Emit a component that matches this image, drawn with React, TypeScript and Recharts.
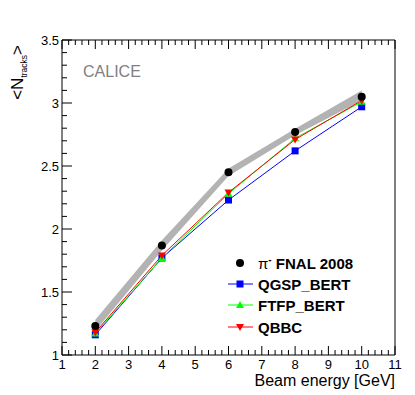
import React from "react";
import { ComposedChart, Line, Area, XAxis, YAxis, Legend } from "recharts";

const energies = [2, 4, 6, 8, 10];
const fnalData = [1.23, 1.87, 2.45, 2.77, 3.05];
const qgspBert = [1.16, 1.77, 2.23, 2.62, 2.97];
const ftfpBert = [1.17, 1.77, 2.28, 2.72, 3.01];
const qbbc = [1.18, 1.79, 2.29, 2.71, 3.02];
const bandLow = [1.19, 1.83, 2.42, 2.745, 3.02];
const bandHigh = [1.28, 1.91, 2.48, 2.795, 3.1];

const xMajor = [1, 2, 3, 4, 5, 6, 7, 8, 9, 10, 11];
const yMajor = [1, 1.5, 2, 2.5, 3, 3.5];
const xTicks = Array.from({ length: 51 }, (_, i) => +(1 + i * 0.2).toFixed(1));
const yTicks = Array.from({ length: 26 }, (_, i) => +(1 + i * 0.1).toFixed(1));

const rows = energies.map((e, i) => ({
  energy: e,
  data: fnalData[i],
  qgsp: qgspBert[i],
  ftfp: ftfpBert[i],
  qbbc: qbbc[i],
  band: [bandLow[i], bandHigh[i]],
}));

const FONT = "'Liberation Sans', Arial, Helvetica, sans-serif";
const BLUE = "#0000ff";
const GREEN = "#00ff00";
const RED = "#ff0000";

const isXMajor = (v: number) => xMajor.some((m) => Math.abs(m - v) < 1e-6);
const isYMajor = (v: number) => yMajor.some((m) => Math.abs(m - v) < 1e-6);

const BottomTick = (p: any) => {
  const v = p.payload.value;
  const major = isXMajor(v);
  return (
    <g>
      <line x1={p.x} x2={p.x} y1={p.y} y2={p.y - (major ? 9 : 5)} stroke="#000" />
      {major && (
        <text x={p.x} y={p.y + 14} textAnchor="middle" fontSize={13} fontFamily={FONT} fill="#000">
          {v}
        </text>
      )}
    </g>
  );
};

const TopTick = (p: any) => {
  const major = isXMajor(p.payload.value);
  return <line x1={p.x} x2={p.x} y1={p.y} y2={p.y + (major ? 9 : 5)} stroke="#000" />;
};

const LeftTick = (p: any) => {
  const v = p.payload.value;
  const major = isYMajor(v);
  return (
    <g>
      <line x1={p.x} x2={p.x + (major ? 10 : 5)} y1={p.y} y2={p.y} stroke="#000" />
      {major && (
        <text x={p.x - 3} y={p.y + 4.5} textAnchor="end" fontSize={13} fontFamily={FONT} fill="#000">
          {v}
        </text>
      )}
    </g>
  );
};

const RightTick = (p: any) => {
  const major = isYMajor(p.payload.value);
  return <line x1={p.x} x2={p.x - (major ? 10 : 5)} y1={p.y} y2={p.y} stroke="#000" />;
};

const Circle = (p: any) => <circle key={p.index} cx={p.cx} cy={p.cy} r={4} fill="#000" />;
const Square = (p: any) => (
  <rect key={p.index} x={p.cx - 3.5} y={p.cy - 3.5} width={7} height={7} fill={BLUE} />
);
const TriUp = (p: any) => (
  <path key={p.index} d={`M${p.cx},${p.cy - 4}L${p.cx + 4},${p.cy + 3}L${p.cx - 4},${p.cy + 3}Z`} fill={GREEN} />
);
const TriDown = (p: any) => (
  <path key={p.index} d={`M${p.cx},${p.cy + 4}L${p.cx + 4},${p.cy - 3}L${p.cx - 4},${p.cy - 3}Z`} fill={RED} />
);

const legendItems = [
  { name: "FNAL 2008", pi: true, color: "#000", marker: "circle", line: false },
  { name: "QGSP_BERT", pi: false, color: BLUE, marker: "square", line: true },
  { name: "FTFP_BERT", pi: false, color: GREEN, marker: "up", line: true },
  { name: "QBBC", pi: false, color: RED, marker: "down", line: true },
];
const legendRowY = [11, 32, 53, 75];

const renderLegend = () => (
  <svg width={180} height={95}>
    {legendItems.map((it, i) => {
      const cy = legendRowY[i];
      const cx = 17;
      let m: React.ReactNode = null;
      if (it.marker === "circle") m = <circle cx={cx} cy={cy} r={4} fill="#000" />;
      if (it.marker === "square") m = <rect x={cx - 3.5} y={cy - 3.5} width={7} height={7} fill={BLUE} />;
      if (it.marker === "up")
        m = <path d={`M${cx},${cy - 4}L${cx + 4},${cy + 3}L${cx - 4},${cy + 3}Z`} fill={GREEN} />;
      if (it.marker === "down")
        m = <path d={`M${cx},${cy + 4}L${cx + 4},${cy - 3}L${cx - 4},${cy - 3}Z`} fill={RED} />;
      return (
        <g key={it.name}>
          {it.line && <line x1={5} x2={30} y1={cy} y2={cy} stroke={it.color} strokeWidth={1} />}
          {m}
          <text x={35} y={cy + 5.5} fontSize={15} fontWeight="bold" fontFamily={FONT} fill="#000">
            {it.pi ? (
              <>
                <tspan fontWeight="normal">π</tspan>
                <tspan dy={-6} fontSize={10}>-</tspan>
                <tspan dy={6}>{" " + it.name}</tspan>
              </>
            ) : (
              it.name
            )}
          </text>
        </g>
      );
    })}
  </svg>
);

export default function App() {
  return (
    <ComposedChart
      width={407}
      height={387}
      data={rows}
      margin={{ top: 0, right: 0, bottom: 0, left: 0 }}
    >
      <XAxis
        dataKey="energy"
        type="number"
        domain={[1, 11]}
        ticks={xTicks}
        interval={0}
        height={40}
        tickSize={0}
        tickMargin={0}
        tickLine={false}
        axisLine={{ stroke: "#000" }}
        tick={BottomTick}
        label={{
          content: () => (
            <text x={387} y={378} textAnchor="end" fontSize={16} fontFamily={FONT} fill="#000">
              Beam energy [GeV]
            </text>
          ),
        }}
      />
      <XAxis
        xAxisId="top"
        orientation="top"
        dataKey="energy"
        type="number"
        domain={[1, 11]}
        ticks={xTicks}
        interval={0}
        height={32}
        tickSize={0}
        tickMargin={0}
        tickLine={false}
        axisLine={{ stroke: "#000" }}
        tick={TopTick}
        label={{
          content: () => (
            <text x={75} y={69} fontSize={16} fontFamily={FONT} fill="#7f7f7f">
              CALICE
            </text>
          ),
        }}
      />
      <YAxis
        type="number"
        domain={[1, 3.5]}
        ticks={yTicks}
        interval={0}
        width={54}
        tickSize={0}
        tickMargin={0}
        tickLine={false}
        axisLine={{ stroke: "#000" }}
        tick={LeftTick}
        label={{
          content: () => (
            <text
              transform="translate(15,37) rotate(-90)"
              textAnchor="end"
              fontSize={17}
              fontFamily={FONT}
              fill="#000"
            >
              <tspan>{"<N"}</tspan>
              <tspan fontSize={8.5} dy={4}>tracks</tspan>
              <tspan dy={-4}>{">"}</tspan>
            </text>
          ),
        }}
      />
      <YAxis
        yAxisId="right"
        orientation="right"
        type="number"
        domain={[1, 3.5]}
        ticks={yTicks}
        interval={0}
        width={20}
        tickSize={0}
        tickMargin={0}
        tickLine={false}
        axisLine={{ stroke: "#000" }}
        tick={RightTick}
      />
      <Area
        dataKey="band"
        type="linear"
        stroke="none"
        fill="#b3b3b3"
        fillOpacity={1}
        isAnimationActive={false}
        activeDot={false}
      />
      <Line dataKey="qgsp" type="linear" stroke={BLUE} strokeWidth={1} dot={Square} activeDot={false} isAnimationActive={false} />
      <Line dataKey="ftfp" type="linear" stroke={GREEN} strokeWidth={1} dot={TriUp} activeDot={false} isAnimationActive={false} />
      <Line dataKey="qbbc" type="linear" stroke={RED} strokeWidth={1} dot={TriDown} activeDot={false} isAnimationActive={false} />
      <Line dataKey="data" type="linear" stroke="none" dot={Circle} activeDot={false} isAnimationActive={false} />
      <Legend
        layout="vertical"
        align="center"
        verticalAlign="middle"
        content={renderLegend}
        wrapperStyle={{ position: "absolute", left: 215, top: 244, width: 180, height: 95 }}
      />
    </ComposedChart>
  );
}
